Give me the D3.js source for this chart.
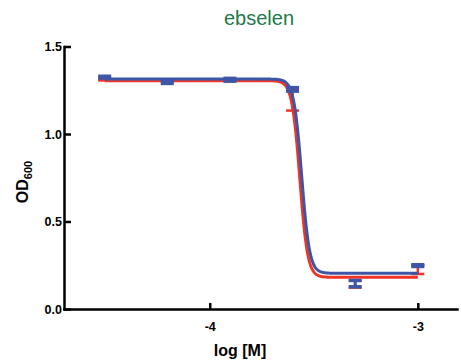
<!DOCTYPE html>
<html><head><meta charset="utf-8">
<script src="https://cdn.jsdelivr.net/npm/d3@7"></script>
<style>body{margin:0;background:#fff}svg{display:block}text{font-family:"Liberation Sans",Arial,sans-serif}</style>
</head><body>
<svg id="c" width="461" height="364"></svg>
<script>
// data
const logDose = [-4.505, -4.204, -3.903, -3.602, -3.301, -3.0];
const blueMean = [1.325, 1.295, 1.31, 1.255, 0.145, 0.248];
const blueErr  = [0.005, 0.006, 0.008, 0.01, 0.018, 0.005];
const redMean  = [1.31, 1.30, 1.31, 1.194, 0.142, 0.225];
const redErr   = [0.004, 0.005, 0.005, 0.06, 0.02, 0.025];
// fitted sigmoid parameters [top, bottom, logIC50, hill]
const blueFit = [1.314, 0.204, -3.558, 23];
const redFit  = [1.305, 0.181, -3.567, 23];
const xTicks = [-4, -3];
const yTicks = [0.0, 0.5, 1.0, 1.5];
const title = "ebselen";

const svg = d3.select("#c");
const x = d3.scaleLinear().domain([-4.7005, -2.8116]).range([64, 457]);
const y = d3.scaleLinear().domain([0, 1.5]).range([309, 46.5]);

const BLUE = "#3d56a8", RED = "#ef3526";

function fitFn(p){ return v => p[1] + (p[0]-p[1])/(1+Math.pow(10,(v-p[2])*p[3])); }
const xs = d3.range(0, 801).map(i => logDose[0] + (logDose[5]-logDose[0])*i/800);
const line = d3.line().x(d => x(d[0])).y(d => y(d[1]));

function drawSeries(p, mean, err, color, capH, lw){
  const f = fitFn(p);
  svg.append("path").attr("d", line(xs.map(v => [v, f(v)])))
    .attr("fill","none").attr("stroke",color).attr("stroke-width",3);
  const g = svg.append("g");
  logDose.forEach((d,i) => {
    const cx = x(d), y1 = y(mean[i]+err[i]), y2 = y(mean[i]-err[i]);
    g.append("line").attr("x1",cx).attr("x2",cx).attr("y1",y1).attr("y2",y2)
      .attr("stroke",color).attr("stroke-width",lw);
    [y1,y2].forEach(yy => g.append("line").attr("x1",cx-6.5).attr("x2",cx+6.5)
      .attr("y1",yy).attr("y2",yy).attr("stroke",color).attr("stroke-width",capH));
  });
}
drawSeries(redFit, redMean, redErr, RED, 2.5, 2.5);
drawSeries(blueFit, blueMean, blueErr, BLUE, 3.5, 3);

// axes
const yAxis = svg.append("g").attr("transform","translate(64,0)")
  .call(d3.axisLeft(y).tickValues(yTicks).tickFormat(d3.format(".1f")).tickSizeInner(-7).tickSizeOuter(0).tickPadding(2));
const xAxis = svg.append("g").attr("transform","translate(0,309)")
  .call(d3.axisBottom(x).tickValues(xTicks).tickFormat(d => d).tickSizeInner(-6).tickSizeOuter(0).tickPadding(13));
[yAxis, xAxis].forEach(a => {
  a.select(".domain").attr("stroke","#000").attr("stroke-width",2.5).attr("stroke-linecap","square");
  a.selectAll(".tick line").attr("stroke","#000").attr("stroke-width",2.5);
  a.selectAll(".tick text").attr("fill","#000").attr("font-size",12.5).attr("font-weight","bold")
   .attr("font-family",'"Liberation Sans",Arial,sans-serif');
});
xAxis.selectAll(".tick text").text(d => "-" + Math.abs(d));

svg.append("text").attr("x",259).attr("y",25).attr("text-anchor","middle")
  .attr("font-size",20).attr("fill","#1d7a47").text(title);
svg.append("text").attr("x",240).attr("y",356).attr("text-anchor","middle")
  .attr("font-size",16).attr("font-weight","bold").text("log [M]");
const yl = svg.append("text").attr("transform","translate(28,182) rotate(-90)")
  .attr("text-anchor","middle").attr("font-size",16).attr("font-weight","bold");
yl.append("tspan").text("OD");
yl.append("tspan").attr("font-size",11).attr("dy",4).text("600");
</script>
</body></html>
